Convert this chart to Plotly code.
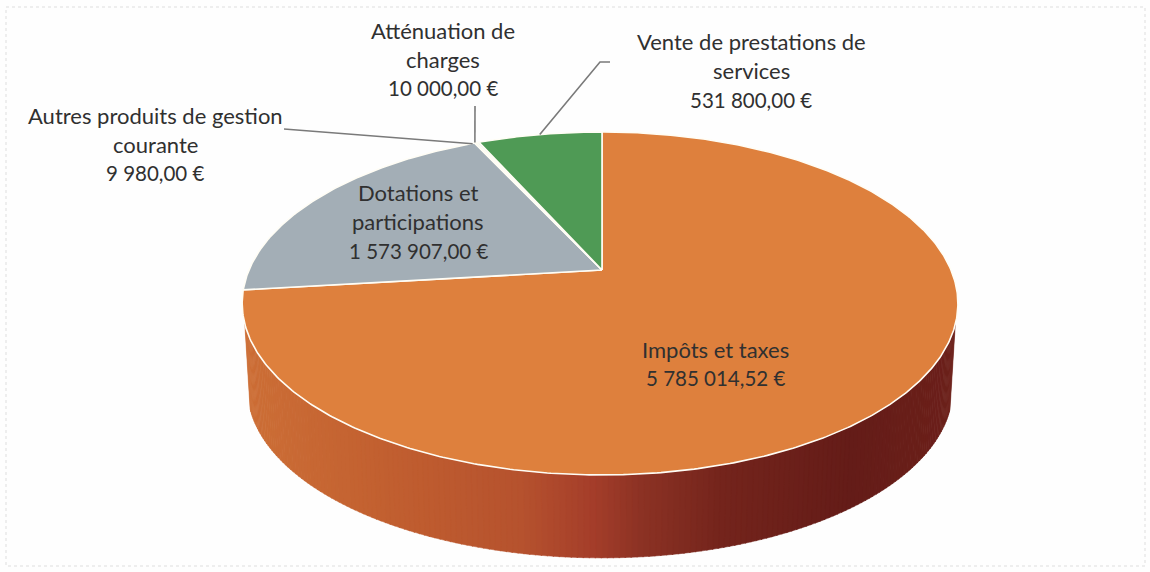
import math
import plotly.graph_objects as go

categories = ["Impôts et taxes", "Dotations et participations", "Autres produits de gestion courante",
              "Atténuation de charges", "Vente de prestations de services"]
values = [5785014.52, 1573907.00, 9980.00, 10000.00, 531800.00]
label_lines = [["Impôts et taxes"], ["Dotations et", "participations"],
               ["Autres produits de gestion", "courante"], ["Atténuation de", "charges"],
               ["Vente de prestations de", "services"]]

# styles / layout
slice_colors = ["#DE803D", "#A3AEB6", "#D7E4C0", "#BBD6E0", "#4F9A55"]
wall_stops = [(250, (204, 110, 54)), (380, (194, 96, 48)), (520, (182, 82, 46)), (590, (165, 62, 42)),
              (640, (140, 50, 36)), (720, (116, 36, 28)), (850, (100, 28, 24)), (954, (108, 32, 26))]
label_pos = [(715, 349, 29), (418, 192, 29.5), (155, 115, 29), (443, 30, 29), (751, 41, 29.5)]
text_size = 22
money_size = 20.5
CX, CY, R, A, K, APEX_SHIFT = 600, 270, 351, 165, 0.195, 2
DEPTH, SHRINK = 86, 0.985


def proj(theta, rad=1.0, bottom=False):
    """theta: degrees clockwise from 12 o'clock on the disc; perspective projection to page pixels."""
    t = math.radians(theta)
    u, v = rad * math.sin(t), rad * math.cos(t)
    w = 1 + K * v
    px = R * u / w
    py = -A * v / w
    shift = APEX_SHIFT * (1 - abs(u))
    if bottom:
        return CX + shift + px * SHRINK, CY + py * SHRINK + DEPTH
    return CX + shift + px, CY + py


def wall_color(x):
    if x <= wall_stops[0][0]:
        c = wall_stops[0][1]
    elif x >= wall_stops[-1][0]:
        c = wall_stops[-1][1]
    else:
        for (x0, c0), (x1, c1) in zip(wall_stops, wall_stops[1:]):
            if x0 <= x <= x1:
                f = (x - x0) / (x1 - x0)
                c = tuple(a + (b - a) * f for a, b in zip(c0, c1))
                break
    return "rgb(%d,%d,%d)" % tuple(round(i) for i in c)


def fr_money(v):
    return f"{v:,.2f}".replace(",", "\u00a0").replace(".", ",") + "\u00a0€"


total = sum(values)
fig = go.Figure()

# side wall: thin quads along the front rim of the first (largest) slice
wall_from, wall_to = 108.0, 252.0
steps = 180
for i in range(steps):
    a0 = wall_from + (wall_to - wall_from) * i / steps
    a1 = wall_from + (wall_to - wall_from) * (i + 1) / steps + 0.15
    p = [proj(a0), proj(a1), proj(a1, bottom=True), proj(a0, bottom=True)]
    xs = [q[0] for q in p] + [p[0][0]]
    ys = [q[1] for q in p] + [p[0][1]]
    col = wall_color(sum(xs[:4]) / 4)
    fig.add_trace(go.Scatter(x=xs, y=ys, mode="lines", fill="toself", fillcolor=col,
                             line=dict(color=col, width=0.5), hoverinfo="skip", showlegend=False))

# top face wedges
start = 0.0
mids = []
for name, val, col in zip(categories, values, slice_colors):
    sweep = 360 * val / total
    n = max(2, int(sweep * 2))
    pts = [proj(start + sweep * j / n) for j in range(n + 1)]
    ax, ay = proj(0, 0)
    xs = [ax] + [q[0] for q in pts] + [ax]
    ys = [ay] + [q[1] for q in pts] + [ay]
    fig.add_trace(go.Scatter(x=xs, y=ys, mode="lines", fill="toself", fillcolor=col,
                             line=dict(color="#FFFDF5", width=1.6), name=name,
                             text=f"{name}<br>{fr_money(val)}", hoverinfo="text", showlegend=False))
    mids.append(start + sweep / 2)
    start += sweep

# leader lines: pie end from the slice mid-angle, other end at the label
leaders = {2: ((-3, 1), [(284, 129)]), 3: ((-3, 0), [(475, 106)]), 4: ((0, 0), [(600, 62), (610, 62)])}
for idx, ((ox, oy), tail) in leaders.items():
    px, py = proj(mids[idx])
    xs = [px + ox] + [t[0] for t in tail]
    ys = [py + oy] + [t[1] for t in tail]
    fig.add_trace(go.Scatter(x=xs, y=ys, mode="lines", line=dict(color="#7A7A7A", width=1.6),
                             hoverinfo="skip", showlegend=False))

# labels
annots = []
for lines, val, (lx, ly, lh) in zip(label_lines, values, label_pos):
    rows = [(t, text_size) for t in lines] + [(fr_money(val), money_size)]
    for k, (txt, size) in enumerate(rows):
        annots.append(dict(x=lx, y=ly + k * lh, text=txt, showarrow=False, xanchor="center", yanchor="middle",
                           font=dict(family="Lato, Carlito, sans-serif", size=size, color="#303030")))

fig.update_layout(
    width=1150, height=572, margin=dict(l=0, r=0, t=0, b=0),
    paper_bgcolor="#FEFEFE", plot_bgcolor="#FEFEFE", showlegend=False,
    xaxis=dict(range=[0, 1150], visible=False, fixedrange=True),
    yaxis=dict(range=[572, 0], visible=False, fixedrange=True),
    annotations=annots,
    shapes=[dict(type="rect", xref="x", yref="y", x0=6, y0=7, x1=1145, y1=566,
                 line=dict(color="#DEDEDE", width=1, dash="dot"), layer="below")],
)
fig.write_html("out.html", config={"displayModeBar": False},
               post_script="document.body.style.margin='0';")
